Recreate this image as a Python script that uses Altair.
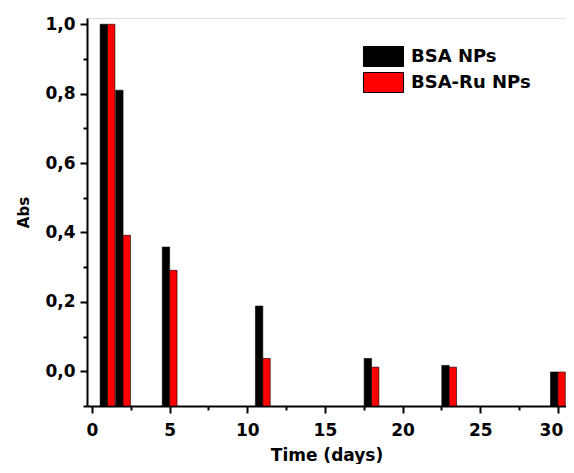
import altair as alt
import pandas as pd

days = [1, 2, 5, 11, 18, 23, 30]
bsa_nps = [1.0, 0.81, 0.358, 0.188, 0.037, 0.017, -0.002]
bsa_ru_nps = [1.0, 0.392, 0.291, 0.037, 0.012, 0.012, -0.002]
series = ["BSA NPs", "BSA-Ru NPs"]
colors = ["#000000", "#ff0000"]

df = pd.DataFrame(
    {"day": days * 2,
     "abs": bsa_nps + bsa_ru_nps,
     "series": [series[0]] * len(days) + [series[1]] * len(days)}
)

FONT = "DejaVu Sans"
BARW = 7.4

x_scale = alt.Scale(domain=[0, 30.2], nice=False, zero=False)
y_scale = alt.Scale(domain=[-0.1, 1.018], nice=False, zero=False)

x_ticks = [i * 2.5 for i in range(13)]
y_ticks = [round(-0.1 + i * 0.1, 1) for i in range(12)]

x_axis = alt.Axis(
    values=x_ticks, grid=False, title="Time (days)",
    labelExpr="datum.value % 5 == 0 ? format(datum.value, 'd') : ''",
    tickSize={"condition": {"test": "datum.value % 5 == 0", "value": 7}, "value": 4},
    labelOffset={"condition": {"test": "datum.value == 30", "value": -7}, "value": 0},
    tickWidth=2, domainWidth=2, domainColor="black", tickColor="black",
    labelFont=FONT, labelFontWeight="bold", labelFontSize=17, labelColor="black",
    labelPadding=9, titleFont=FONT, titleFontWeight="bold", titleFontSize=17,
    titleColor="black", titlePadding=9, labelFlush=False, labelOverlap=False,
)
y_axis = alt.Axis(
    values=y_ticks, grid=False, title="Abs",
    labelExpr="(round(datum.value*10) % 2 == 0) ? replace(format(datum.value, '.1f'), '.', ',') : ''",
    tickSize={"condition": {"test": "round(datum.value*10) % 2 == 0", "value": 7}, "value": 4},
    tickWidth=2, domainWidth=2, domainColor="black", tickColor="black",
    labelFont=FONT, labelFontWeight="bold", labelFontSize=17, labelColor="black",
    labelPadding=5, titleFont=FONT, titleFontWeight="bold", titleFontSize=15,
    titleColor="black", titlePadding=13, labelFlush=False, labelOverlap=False,
)

color = alt.Color(
    "series:N",
    scale=alt.Scale(domain=series, range=colors),
    legend=alt.Legend(
        title=None, orient="none", legendX=283, legendY=25, padding=0,
        symbolType="M-1.54,-0.77H1.54V0.77H-1.54Z", symbolSize=676,
        symbolStrokeColor="black", symbolStrokeWidth=1, symbolOpacity=1,
        labelFont=FONT, labelFontWeight="bold", labelFontSize=18,
        labelColor="black", rowPadding=0, labelOffset=14,
    ),
)

black = alt.Chart(df).transform_filter(alt.datum.series == series[0]).mark_bar(
    width=BARW, xOffset=-BARW / 2, stroke="black", strokeWidth=0.6, clip=True
).encode(
    x=alt.X("day:Q", scale=x_scale, axis=x_axis),
    y=alt.Y("abs:Q", scale=y_scale, axis=y_axis),
    y2=alt.datum(-0.1),
    color=color,
)
red = alt.Chart(df).transform_filter(alt.datum.series == series[1]).mark_bar(
    width=BARW, xOffset=BARW / 2, stroke="black", strokeWidth=0.6, clip=True
).encode(
    x=alt.X("day:Q", scale=x_scale, axis=x_axis),
    y=alt.Y("abs:Q", scale=y_scale, axis=y_axis),
    y2=alt.datum(-0.1),
    color=color,
)

chart = alt.layer(black, red).properties(
    width=479, height=388,
    autosize=alt.AutoSizeParams(type="none"),
    padding={"left": 79, "top": 10, "right": 0, "bottom": 58},
).configure_view(stroke=None).configure(background="white")

chart.save("out.html", embed_options={"renderer": "svg", "actions": False})
